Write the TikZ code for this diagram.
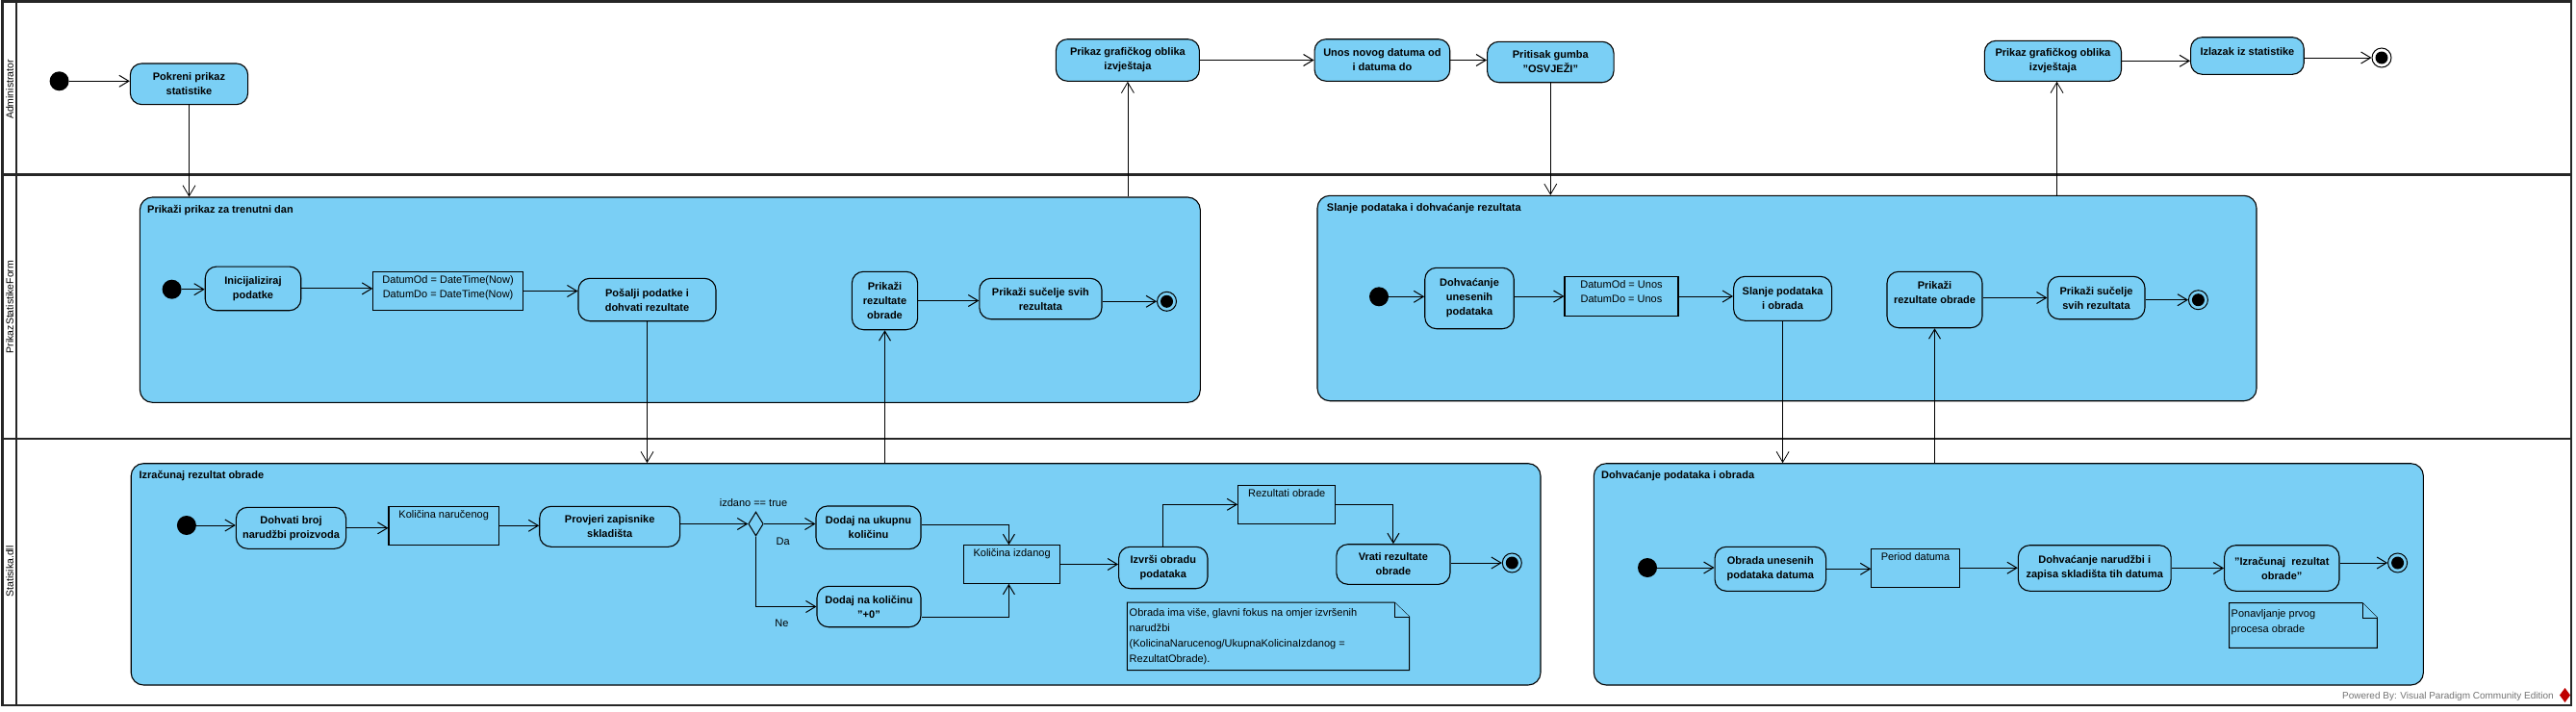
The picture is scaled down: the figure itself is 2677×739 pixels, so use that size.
\documentclass[tikz,border=0pt]{standalone}
\usepackage{fontspec}
\setmainfont{Liberation Sans}
\usetikzlibrary{arrows.meta,shapes.geometric}
\definecolor{vpblue}{RGB}{122,207,245}
\begin{document}
\begin{tikzpicture}[x=1pt,y=-1pt,
  lanel/.style={draw=black!85, line width=2.2pt},
  lanetxt/.style={font=\fontsize{10.5}{12}\selectfont, inner sep=0pt},
  grp/.style={draw=black, fill=vpblue, rounded corners=13pt, line width=1.1pt, inner sep=0pt},
  gtitle/.style={anchor=west, inner sep=0pt, font=\bfseries\fontsize{11}{15}\selectfont},
  act/.style={draw=black, fill=vpblue, rounded corners=12pt, line width=1.1pt, align=center, inner sep=2pt, font=\bfseries\fontsize{11}{15}\selectfont},
  objbox/.style={draw=black, fill=vpblue, line width=1.1pt, inner sep=0pt},
  objtxt/.style={font=\fontsize{11}{15}\selectfont, align=center, inner sep=0pt, anchor=north},
  startn/.style={circle, fill=black, minimum size=20pt, inner sep=0pt},
  endn/.style={circle, draw=black, line width=1pt, minimum size=20pt, inner sep=0pt,
    path picture={\fill[black] (path picture bounding box.center) circle (6.5pt);}},
  dec/.style={diamond, draw=black, fill=vpblue, line width=1pt, minimum width=15.5pt, minimum height=25pt, inner sep=0pt},
  lbl/.style={font=\fontsize{11}{15}\selectfont, inner sep=0pt},
  notest/.style={draw=black, fill=vpblue, line width=1pt},
  notetxt/.style={font=\fontsize{11}{16}\selectfont, align=left, inner sep=0pt, anchor=north west},
  arr/.style={-{Straight Barb[length=10pt,width=12pt]}, line width=1pt},
  thinarr/.style={-{Straight Barb[length=11pt,width=13pt]}, line width=0.8pt}
]
\fill[white] (0,0) rectangle (2677,739);
\useasboundingbox (0,0) rectangle (2677,739);

% swimlanes
\draw[lanel] (2.5,1.5) rectangle (2672,732.7);
\draw[lanel] (17,1.5) -- (17,732.7);
\draw[lanel] (2.5,181.5) -- (2672,181.5);
\draw[lanel] (2.5,456) -- (2672,456);
\node[lanetxt, rotate=90] (ln1) at (10,93) {Administrator};
\node[lanetxt, rotate=90] (ln2) at (10,319) {PrikazStatistikeForm};
\node[lanetxt, rotate=90] (ln3) at (10,594) {Statisika.dll};

% groups
\node[grp, minimum width=1101.9pt, minimum height=213.3pt] (g1) at (696.35,311.65) {};
\node[grp, minimum width=976pt, minimum height=213.4pt] (g2) at (1857,310) {};
\node[grp, minimum width=1464.8pt, minimum height=230.3pt] (g3) at (868.6,596.85) {};
\node[grp, minimum width=862.1pt, minimum height=230.3pt] (g4) at (2087.35,596.85) {};
\node[gtitle] (t1) at (153,218.3) {Prikaži prikaz za trenutni dan};
\node[gtitle] (t2) at (1378.7,216.7) {Slanje podataka i dohvaćanje rezultata};
\node[gtitle] (t3) at (144.4,494.3) {Izračunaj rezultat obrade};
\node[gtitle] (t4) at (1664,494.3) {Dohvaćanje podataka i obrada};

% lane 1: Administrator
\node[startn] (s0) at (61.6,84.3) {};
\node[act, minimum width=122.3pt, minimum height=42.7pt] (pokreni) at (196.5,87.3) {Pokreni prikaz\\statistike};
\node[act, minimum width=149pt, minimum height=43.6pt] (prikaz1) at (1171.9,62.5) {Prikaz grafičkog oblika\\izvještaja};
\node[act, minimum width=140.7pt, minimum height=43.6pt] (unos) at (1436.4,62.5) {Unos novog datuma od\\i datuma do};
\node[act, minimum width=131.5pt, minimum height=42.4pt] (pritisak) at (1611.3,64.5) {Pritisak gumba\\"OSVJEŽI"};
\node[act, minimum width=142.2pt, minimum height=42pt] (prikaz2) at (2133.4,63.3) {Prikaz grafičkog oblika\\izvještaja};
\node[act, minimum width=117.7pt, minimum height=38.6pt] (izlazak) at (2335.4,58) {\raisebox{4pt}[\height][\depth]{Izlazak iz statistike}};
\node[endn] (f0) at (2475,60) {};

% group 1
\node[startn] (s1) at (178.6,300.7) {};
\node[act, minimum width=99.5pt, minimum height=45.7pt] (ini) at (263,299.9) {Inicijaliziraj\\podatke};
\node[objbox, minimum width=155.6pt, minimum height=40.4pt] (obj1) at (465.6,302.5) {};
\node[objtxt] (obj1t) at ([yshift=-4.5pt]obj1.north) {DatumOd = DateTime(Now)\\DatumDo = DateTime(Now)};
\node[act, minimum width=143pt, minimum height=44.4pt] (posalji) at (672.5,311.5) {Pošalji podatke i\\dohvati rezultate};
\node[act, minimum width=68.3pt, minimum height=60.4pt] (prez1) at (919.5,312.5) {Prikaži\\rezultate\\obrade};
\node[act, minimum width=127.2pt, minimum height=42.4pt] (psuc1) at (1081.4,310.5) {Prikaži sučelje svih\\rezultata};
\node[endn] (f1) at (1212.5,313.3) {};

% group 2
\node[startn] (s2) at (1433,308.3) {};
\node[act, minimum width=92.5pt, minimum height=63.4pt] (dohv) at (1527,310) {Dohvaćanje\\unesenih\\podataka};
\node[objbox, minimum width=118pt, minimum height=40.6pt] (obj2) at (1685,308) {};
\node[objtxt] (obj2t) at ([yshift=-4.5pt]obj2.north) {DatumOd = Unos\\DatumDo = Unos};
\node[act, minimum width=102pt, minimum height=46pt] (slanje) at (1852.6,310.3) {Slanje podataka\\i obrada};
\node[act, minimum width=99pt, minimum height=58.4pt] (prez2) at (2010.5,311.5) {Prikaži\\rezultate obrade\\\mbox{}};
\node[act, minimum width=101pt, minimum height=44.4pt] (psuc2) at (2178.5,309.5) {Prikaži sučelje\\svih rezultata};
\node[endn] (f2) at (2284.4,311.7) {};

% group 3
\node[startn] (s3) at (193.9,546) {};
\node[act, minimum width=114.3pt, minimum height=43pt] (dohvati) at (302.5,548.8) {Dohvati broj\\narudžbi proizvoda};
\node[objbox, minimum width=114.4pt, minimum height=40pt] (kolnar) at (461.2,546.3) {};
\node[objtxt] (kolnart) at ([yshift=-4.5pt]kolnar.north) {Količina naručenog};
\node[act, minimum width=145.9pt, minimum height=42pt] (provjeri) at (633.7,547.3) {Provjeri zapisnike\\skladišta};
\node[dec] (dia) at (785.5,544.5) {};
\node[lbl] (lz) at (783,522.3) {izdano == true};
\node[lbl] (lda) at (813.7,562.7) {Da};
\node[lbl] (lne) at (812.5,647.3) {Ne};
\node[act, minimum width=109pt, minimum height=44.7pt] (dodaju) at (902.5,548.3) {Dodaj na ukupnu\\količinu};
\node[act, minimum width=108pt, minimum height=42.4pt] (dodajn) at (903,630.5) {Dodaj na količinu\\"+0"};
\node[objbox, minimum width=100.4pt, minimum height=39.6pt] (kolizd) at (1051.6,586.5) {};
\node[objtxt] (kolizdt) at ([yshift=-4.5pt]kolizd.north) {Količina izdanog};
\node[act, minimum width=92.4pt, minimum height=43.4pt] (izvrsi) at (1208.8,590) {Izvrši obradu\\podataka};
\node[objbox, minimum width=101pt, minimum height=40pt] (rezobr) at (1337.2,524.3) {};
\node[objtxt] (rezobrt) at ([yshift=-4.5pt]rezobr.north) {Rezultati obrade};
\node[act, minimum width=118.2pt, minimum height=41.6pt] (vrati) at (1447.9,586.5) {Vrati rezultate\\obrade};
\node[endn] (f3) at (1571.3,585) {};
\draw[notest] (1171.3,626) -- (1449,626) -- (1464.6,641) -- (1464.6,696.7) -- (1171.3,696.7) -- cycle;
\draw[notest] (1449,626) -- (1449,641) -- (1464.6,641);
\node[notetxt] (n1) at (1173.5,632.5) {Obrada ima više, glavni fokus na omjer izvršenih\\narudžbi\\(KolicinaNarucenog/UkupnaKolicinaIzdanog =\\RezultatObrade).};

% group 4
\node[startn] (s4) at (1712,590) {};
\node[act, minimum width=115.5pt, minimum height=46pt] (obrada) at (1839.8,591.3) {Obrada unesenih\\podataka datuma};
\node[objbox, minimum width=91.4pt, minimum height=40.3pt] (period) at (1990.5,590.2) {};
\node[objtxt] (periodt) at ([yshift=-4.5pt]period.north) {Period datuma};
\node[act, minimum width=158.7pt, minimum height=47.6pt] (dohnar) at (2176.7,590.5) {Dohvaćanje narudžbi i\\zapisa skladišta tih datuma};
\node[act, minimum width=119.4pt, minimum height=47.6pt] (izrac) at (2371.3,590.5) {"Izračunaj~ rezultat\\obrade"};
\node[endn] (f4) at (2491.6,585) {};
\draw[notest] (2316.5,626.7) -- (2455,626.7) -- (2470.3,642) -- (2470.3,673.3) -- (2316.5,673.3) -- cycle;
\draw[notest] (2455,626.7) -- (2455,642) -- (2470.3,642);
\node[notetxt] (n2) at (2318.5,633) {Ponavljanje prvog\\procesa obrade};

% footer
\node[font=\fontsize{10}{12}\selectfont, text=black!55, anchor=east, inner sep=0pt] (pw) at (2654,724) {Powered By: Visual Paradigm Community Edition};
\fill[red!75!black] (2665.5,715) -- (2671,722.5) -- (2665.5,730) -- (2660,722.5) -- cycle;

% connectors lane 1
\draw[arr] (s0) -- (s0 -| pokreni.west);
\draw[thinarr] (pokreni.south) -- (pokreni.south |- g1.north);
\draw[thinarr] (g1.north -| prikaz1.south) -- (prikaz1.south);
\draw[arr] (prikaz1) -- (prikaz1 -| unos.west);
\draw[arr] (unos) -- (unos -| pritisak.west);
\draw[thinarr] (pritisak.south) -- (pritisak.south |- g2.north);
\coordinate (x7) at (2137.5,0);
\draw[thinarr] (g2.north -| x7) -- (prikaz2.south -| x7);
\draw[arr] (prikaz2) -- (prikaz2 -| izlazak.west);
\draw[arr] (izlazak.east |- f0) -- (f0);

% connectors group 1
\draw[arr] (s1) -- (s1 -| ini.west);
\draw[arr] (ini) -- (ini -| obj1.west);
\draw[arr] (obj1) -- (obj1 -| posalji.west);
\draw[thinarr] (posalji.south) -- (posalji.south |- g3.north);
\draw[arr] (g3.north -| prez1.south) -- (prez1.south);
\draw[arr] (prez1) -- (prez1 -| psuc1.west);
\draw[arr] (psuc1.east |- f1) -- (f1);

% connectors group 2
\draw[arr] (s2) -- (s2 -| dohv.west);
\draw[arr] (dohv.east |- obj2) -- (obj2.west);
\draw[arr] (obj2) -- (obj2 -| slanje.west);
\draw[thinarr] (slanje.south) -- (slanje.south |- g4.north);
\draw[arr] (g4.north -| prez2.south) -- (prez2.south);
\draw[arr] (prez2.east |- psuc2) -- (psuc2.west);
\draw[arr] (psuc2.east |- f2) -- (f2);

% connectors group 3
\coordinate (kx) at (1048.4,0);
\draw[arr] (s3) -- (s3 -| dohvati.west);
\draw[arr] (dohvati) -- (dohvati -| kolnar.west);
\draw[arr] (kolnar) -- (kolnar -| provjeri.west);
\draw[arr] (provjeri.east |- dia) -- (dia.west);
\draw[arr] (dia.east) -- (dia.east -| dodaju.west);
\draw[arr] (dia.south) |- (dodajn.west);
\draw[arr] ([yshift=3pt]dodaju.east) -| (kx |- kolizd.north);
\draw[arr] ([yshift=-10.8pt]dodajn.east) -| (kx |- kolizd.south);
\draw[arr] (kolizd) -- (kolizd -| izvrsi.west);
\draw[arr] (izvrsi.north) |- (rezobr.west);
\draw[arr] (rezobr.east) -| (vrati.north);
\draw[arr] (vrati.east |- f3) -- (f3);

% connectors group 4
\draw[arr] (s4) -- (s4 -| obrada.west);
\draw[arr] (obrada) -- (obrada -| period.west);
\draw[arr] (period) -- (period -| dohnar.west);
\draw[arr] (dohnar) -- (dohnar -| izrac.west);
\draw[arr] (izrac.east |- f4) -- (f4);
\end{tikzpicture}
\end{document}
